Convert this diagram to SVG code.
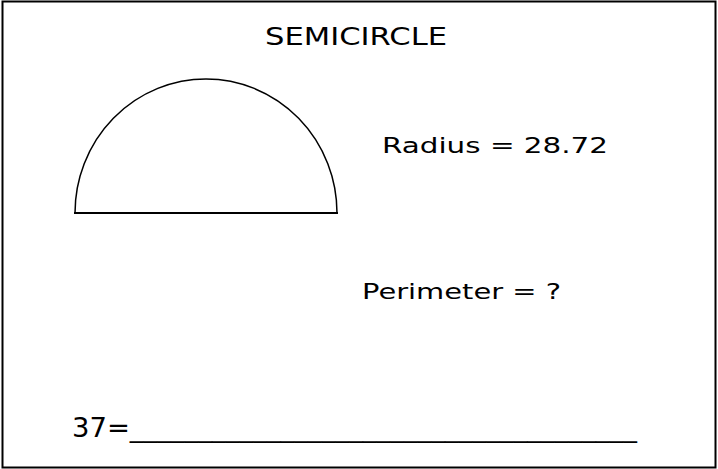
<svg xmlns="http://www.w3.org/2000/svg" width="718" height="469" viewBox="0 0 718 469">
  <style>
    .t { font-family: "DejaVu Sans", Verdana, sans-serif; fill: #000; }
    .s { fill: none; stroke: #000; }
  </style>
  <rect x="0" y="0" width="718" height="469" fill="#fff"/>
  <g id="frame">
    <rect class="s" x="2.5" y="1.5" width="713" height="466" stroke-width="2"/>
  </g>
  <g id="title">
    <text class="t" x="265" y="45" font-size="24" textLength="182" lengthAdjust="spacingAndGlyphs">SEMICIRCLE</text>
  </g>
  <g id="semicircle">
    <path class="s" d="M 75 213 A 131 134 0 0 1 337 213" stroke-width="1.5"/>
    <line class="s" x1="74" y1="213" x2="338" y2="213" stroke-width="2"/>
  </g>
  <g id="radius">
    <text class="t" x="382" y="153" font-size="22" textLength="226" lengthAdjust="spacingAndGlyphs">Radius = 28.72</text>
  </g>
  <g id="perimeter">
    <text class="t" x="362" y="299" font-size="22" textLength="199" lengthAdjust="spacingAndGlyphs">Perimeter = ?</text>
  </g>
  <g id="answer">
    <text class="t" x="72" y="437" font-size="26" textLength="565" lengthAdjust="spacingAndGlyphs">37=_____________________________________</text>
  </g>
</svg>
